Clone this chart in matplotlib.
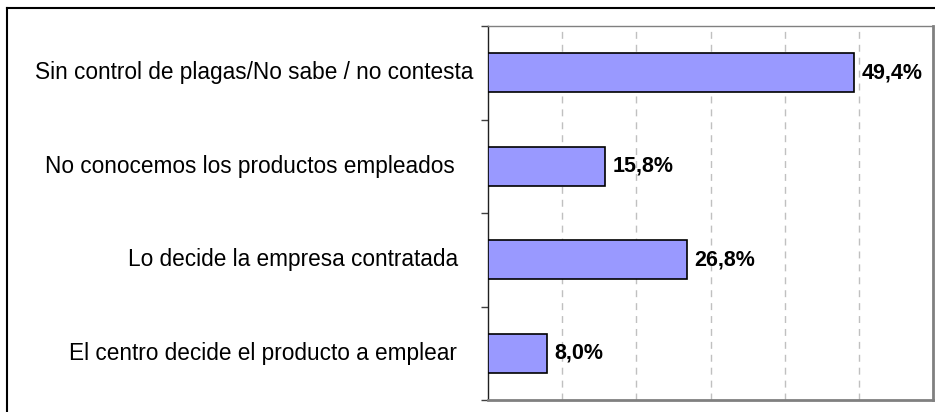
import matplotlib.pyplot as plt
from matplotlib.lines import Line2D
import matplotlib.transforms as mtransforms

plt.rcParams['font.family'] = ['Liberation Sans', 'DejaVu Sans']
plt.rcParams['lines.scale_dashes'] = False

categories = [
    "Sin control de plagas/No sabe / no contesta",
    "No conocemos los productos empleados",
    "Lo decide la empresa contratada",
    "El centro decide el producto a emplear",
]
values = [49.4, 15.8, 26.8, 8.0]
value_labels = ["49,4%", "15,8%", "26,8%", "8,0%"]

fig = plt.figure(figsize=(9.35, 4.12), dpi=100)
ax = fig.add_axes([488 / 935, 12 / 412, 445 / 935, 374 / 412])

# top category first
ypos = list(range(len(categories)))[::-1]
ax.barh(ypos, values, height=0.42, color="#9999ff", edgecolor="black",
        linewidth=1.2, zorder=3)

ax.set_xlim(0, 60)
ax.set_ylim(-0.5, len(categories) - 0.5)

for x in range(10, 60, 10):
    ax.axvline(x, color="#c0c0c0", lw=1, ls=(0, (5, 4.3)), zorder=1)

ax.set_xticks([])
ax.set_yticks([y - 0.5 for y in range(len(categories) + 1)])
ax.set_yticklabels([])
ax.tick_params(axis="y", length=5, width=1, color="#404040")

# category labels; first one sits closer to the axis in the original
pads = [15, 33, 30, 31]
for y, lab, p in zip(ypos, categories, pads):
    off = mtransforms.offset_copy(ax.get_yaxis_transform(), fig=fig, x=-p, y=0, units="dots")
    ax.text(0, y, lab, transform=off, ha="right", va="center", fontsize=16.3)

for y, v, lab in zip(ypos, values, value_labels):
    ax.annotate(lab, (v, y), xytext=(7, 0), textcoords="offset pixels",
                ha="left", va="center", fontsize=15.5, fontweight="bold")

ax.spines["top"].set_color("#808080")
ax.spines["top"].set_linewidth(1)
for s in ["right", "bottom"]:
    ax.spines[s].set_color("#808080")
    ax.spines[s].set_linewidth(2)
ax.spines["left"].set_color("#202020")
ax.spines["left"].set_linewidth(1)

# outer chart border (top and left edges visible)
fig.add_artist(Line2D([7 / 935, 1.01], [1 - 8 / 412, 1 - 8 / 412], color="black", lw=1.5,
                      transform=fig.transFigure))
fig.add_artist(Line2D([7 / 935, 7 / 935], [-0.01, 1 - 8 / 412], color="black", lw=1.5,
                      transform=fig.transFigure))

fig.savefig("out.png", dpi=100)
